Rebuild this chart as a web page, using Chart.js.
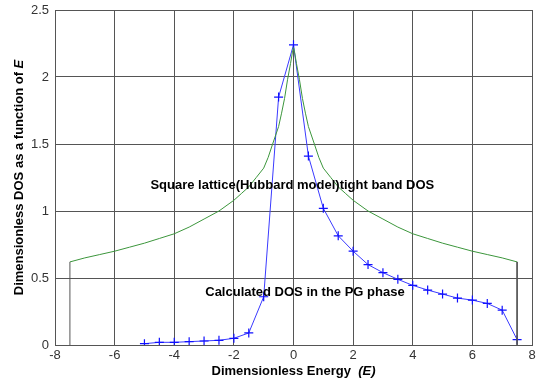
<!DOCTYPE html>
<html>
<head>
<meta charset="utf-8">
<script src="https://cdn.jsdelivr.net/npm/chart.js@4.4.1/dist/chart.umd.min.js"></script>
<style>
  html, body { margin: 0; padding: 0; background: #fff; }
  #wrap { width: 550px; height: 385px; }
</style>
</head>
<body>
<div id="wrap"><canvas id="dos"></canvas></div>
<script>
// calculated DOS in the PG phase (blue crosses)
const pgEnergy = [-5, -4.5, -4, -3.5, -3, -2.5, -2, -1.5, -1, -0.5, 0, 0.5, 1, 1.5, 2, 2.5, 3, 3.5, 4, 4.5, 5, 5.5, 6, 6.5, 7, 7.5];
const pgDos = [0.01, 0.02, 0.02, 0.025, 0.03, 0.035, 0.05, 0.09, 0.36, 1.85, 2.24, 1.41, 1.02, 0.815, 0.70, 0.60, 0.54, 0.49, 0.445, 0.41, 0.38, 0.35, 0.335, 0.31, 0.26, 0.04];

// square lattice tight band DOS (green)
const tbEnergy = [-7.5, -7.5, -7, -6.5, -6, -5.5, -5, -4.5, -4, -3.5, -3, -2.5, -2, -1.75, -1.5, -1.25, -1, -0.85, -0.7, -0.5, -0.4, -0.3, -0.2, -0.1, -0.04, 0,
                  0.04, 0.1, 0.2, 0.3, 0.4, 0.5, 0.7, 0.85, 1, 1.25, 1.5, 1.75, 2, 2.5, 3, 3.5, 4, 4.5, 5, 5.5, 6, 6.5, 7, 7.5, 7.5];
const tbDos = [0, 0.62, 0.65, 0.675, 0.70, 0.73, 0.76, 0.795, 0.83, 0.88, 0.94, 1.0, 1.08, 1.13, 1.18, 1.25, 1.32, 1.4, 1.5, 1.63, 1.73, 1.84, 1.98, 2.1, 2.18, 2.22,
               2.18, 2.1, 1.98, 1.84, 1.73, 1.63, 1.5, 1.4, 1.32, 1.25, 1.18, 1.13, 1.08, 1.0, 0.94, 0.88, 0.83, 0.795, 0.76, 0.73, 0.70, 0.675, 0.65, 0.62, 0];

const xTicks = [-8, -6, -4, -2, 0, 2, 4, 6, 8];
const yTicks = [0, 0.5, 1, 1.5, 2, 2.5];

const ctx = document.getElementById('dos');

function pts(xs, ys) {
  return xs.map((x, i) => ({ x: x, y: ys[i] }));
}

// axis titles with an italic E, and the two labels inside the plot
const textPlugin = {
  id: 'texts',
  afterDraw(chart) {
    const c = chart.ctx;
    const a = chart.chartArea;
    const sx = chart.scales.x, sy = chart.scales.y;
    const bold = 'bold 13px "Liberation Sans", Arial, sans-serif';
    const boldIt = 'italic bold 13px "Liberation Sans", Arial, sans-serif';
    c.save();
    c.fillStyle = '#000';
    c.textBaseline = 'middle';
    c.textAlign = 'left';

    // x title
    const t1 = 'Dimensionless Energy  ';
    c.font = bold;
    const w1 = c.measureText(t1).width;
    c.font = boldIt;
    const w2 = c.measureText('(E)').width;
    let x0 = (a.left + a.right) / 2 - (w1 + w2) / 2;
    c.font = bold;
    c.fillText(t1, x0, 371);
    c.font = boldIt;
    c.fillText('(E)', x0 + w1, 371);

    // y title
    c.translate(19, (a.top + a.bottom) / 2);
    c.rotate(-Math.PI / 2);
    const y1 = 'Dimensionless DOS as a function of ';
    c.font = bold;
    const yw1 = c.measureText(y1).width;
    c.font = boldIt;
    const yw2 = c.measureText('E').width;
    x0 = -(yw1 + yw2) / 2;
    c.font = bold;
    c.fillText(y1, x0, 0);
    c.font = boldIt;
    c.fillText('E', x0 + yw1, 0);
    c.setTransform(1, 0, 0, 1, 0, 0);

    // labels in the plot
    c.font = bold;
    c.fillText('Square lattice(Hubbard model)tight band DOS', sx.getPixelForValue(-4.8), sy.getPixelForValue(1.19));
    c.fillText('Calculated DOS in the PG phase', sx.getPixelForValue(-2.96), sy.getPixelForValue(0.39));
    c.restore();
  }
};

new Chart(ctx, {
  type: 'scatter',
  data: {
    datasets: [
      {
        label: 'tight band DOS',
        data: pts(tbEnergy, tbDos),
        showLine: true,
        borderColor: '#3c963c',
        borderWidth: 1,
        pointRadius: 0,
        tension: 0,
        segment: {
          borderColor: s => (s.p0.parsed.y === 0 || s.p1.parsed.y === 0) ? '#555' : undefined
        }
      },
      {
        label: 'PG phase',
        data: pts(pgEnergy, pgDos),
        showLine: true,
        borderColor: '#3a3aff',
        backgroundColor: '#2a2aff',
        borderWidth: 1,
        pointStyle: 'cross',
        pointRadius: 4.5,
        pointBorderWidth: 1.2,
        pointBorderColor: '#1010ff',
        tension: 0
      }
    ]
  },
  options: {
    responsive: true,
    maintainAspectRatio: false,
    animation: false,
    layout: { padding: { left: 0, right: 18, top: 10, bottom: 0 } },
    plugins: {
      legend: { display: false },
      tooltip: { enabled: false }
    },
    scales: {
      x: {
        type: 'linear',
        min: -8,
        max: 8,
        afterBuildTicks: s => { s.ticks = xTicks.map(v => ({ value: v })); },
        afterFit: s => { s.height = 40; },
        grid: { color: '#555', lineWidth: 1, drawTicks: false },
        border: { color: '#555' },
        ticks: {
          color: '#333',
          padding: 3,
          font: { family: '"Liberation Sans", Arial, sans-serif', size: 13 }
        }
      },
      y: {
        min: 0,
        max: 2.5,
        afterBuildTicks: s => { s.ticks = yTicks.map(v => ({ value: v })); },
        afterFit: s => { s.width = 55; s.paddingTop = 0; s.paddingBottom = 0; },
        grid: { color: '#555', lineWidth: 1, drawTicks: false },
        border: { color: '#555' },
        ticks: {
          color: '#333',
          padding: 6,
          callback: v => String(v),
          font: { family: '"Liberation Sans", Arial, sans-serif', size: 13 }
        }
      }
    }
  },
  plugins: [textPlugin]
});
</script>
</body>
</html>
